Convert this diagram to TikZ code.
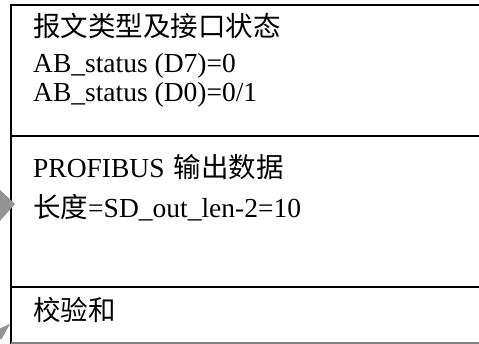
\documentclass[tikz,border=0pt]{standalone}
\usepackage{fontspec}
\setmainfont{Liberation Serif}
\newfontfamily\cjk{Noto Sans CJK SC}
\begin{document}
\begin{tikzpicture}[x=1pt,y=-1pt,
  txt/.style={anchor=base west,inner sep=0pt,font=\fontsize{27.5}{30}\selectfont},
  frame/.style={line width=2pt,draw=black},
  tip/.style={fill=gray!85,draw=none}]
\useasboundingbox (0,0) rectangle (479,344);
\clip (0,0) rectangle (479,344);
% box
\draw[frame] (490,5) -- (11,5) -- (11,344);
\draw[frame] (11,136) -- (490,136);
\draw[frame] (11,287) -- (490,287);
\draw[line width=1.5pt,draw=gray] (11,343) -- (490,343);
% texts
\node[txt] (t1) at (33,37) {\cjk 报文类型及接口状态};
\node[txt] (t2) at (33,73) {AB\_status (D7)=0};
\node[txt] (t3) at (33,102) {AB\_status (D0)=0/1};
\node[txt] (t4) at (33,178) {PROFIBUS\hspace{9pt}{\cjk 输出数据}};
\node[txt] (t5) at (33,218) {{\cjk 长度}=SD\_out\_len-2=10};
\node[txt] (t6) at (33,321) {\cjk 校验和};
% arrow heads entering from the left
\fill[tip] (15,204) -- (-2,188) -- (-1,222) -- cycle;
\fill[tip] (10,324) -- (-4,330) -- (1,340) -- cycle;
\end{tikzpicture}
\end{document}
